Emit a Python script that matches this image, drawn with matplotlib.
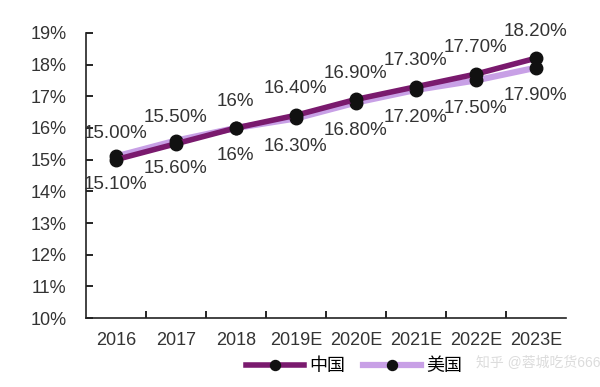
import matplotlib.pyplot as plt
import numpy as np

plt.rcParams['font.family'] = ['Liberation Sans', 'Noto Sans CJK SC', 'DejaVu Sans']

years = ['2016', '2017', '2018', '2019E', '2020E', '2021E', '2022E', '2023E']
china = [15.0, 15.5, 16.0, 16.4, 16.9, 17.3, 17.7, 18.2]
usa = [15.1, 15.6, 16.0, 16.3, 16.8, 17.2, 17.5, 17.9]
china_labels = ['15.00%', '15.50%', '16%', '16.40%', '16.90%', '17.30%', '17.70%', '18.20%']
usa_labels = ['15.10%', '15.60%', '16%', '16.30%', '16.80%', '17.20%', '17.50%', '17.90%']

fig = plt.figure(figsize=(6, 3.87), dpi=100)
ax = fig.add_axes([0.143, 0.178, 0.8, 0.737])

x = np.arange(len(years))
ax.plot(x, usa, color='#c8a0e6', lw=4.5, marker='o', ms=9,
        mfc='#111111', mec='#111111', label='美国', zorder=2)
ax.plot(x, china, color='#7a1a6e', lw=4, marker='o', ms=9,
        mfc='#111111', mec='#111111', label='中国', zorder=3)

for i in range(len(years)):
    ax.annotate(china_labels[i], (x[i], china[i]), xytext=(0, 19),
                textcoords='offset points', ha='center', va='center',
                fontsize=13.5, color='#333333')
    ax.annotate(usa_labels[i], (x[i], usa[i]), xytext=(0, -20),
                textcoords='offset points', ha='center', va='center',
                fontsize=13.5, color='#333333')

ax.set_xlim(-0.5, len(years) - 0.5)
ax.set_ylim(10, 19)
ax.set_yticks(np.arange(10, 20, 1))
ax.set_yticklabels([f'{v}%' for v in range(10, 20)])
ax.set_xticks(x)
ax.set_xticklabels(years)
ax.set_xticks(np.arange(0.5, len(years) - 0.5, 1), minor=True)
ax.tick_params(axis='x', which='major', length=0, pad=10, labelsize=13, colors='#333333')
ax.tick_params(axis='x', which='minor', direction='in', length=5, width=1.2)
ax.tick_params(axis='y', direction='in', length=5, width=1.2, pad=14, labelsize=13,
               labelcolor='#333333')
for s in ['top', 'right']:
    ax.spines[s].set_visible(False)
for s in ['left', 'bottom']:
    ax.spines[s].set_linewidth(1.2)
    ax.spines[s].set_color('#222222')

handles, labels = ax.get_legend_handles_labels()
fig.legend(handles[::-1], labels[::-1], loc='center', bbox_to_anchor=(0.59, 0.052),
           ncol=2, frameon=False, fontsize=13, handlelength=3.2, columnspacing=1.0,
           handletextpad=0.3, markerscale=0.8)

fig.text(0.793, 0.062, '知乎 @蓉城吃货666', ha='left', va='center',
         fontsize=10, color='#dcdcdc')

fig.savefig('out.png', dpi=100)
